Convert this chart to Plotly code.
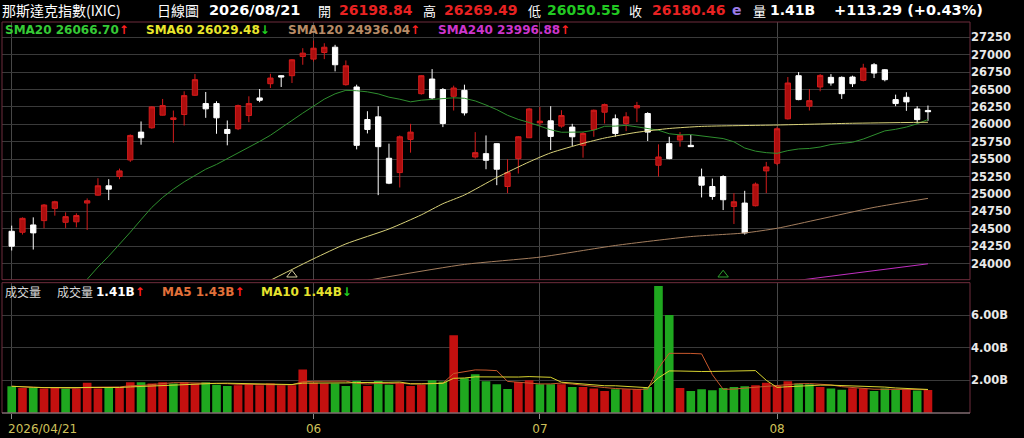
import plotly.graph_objects as go
import pandas as pd

# ---------------- data ----------------
dates = [d.strftime("%Y-%m-%d") for d in pd.bdate_range(
    "2026-04-21", "2026-08-21", freq="C",
    holidays=["2026-05-25", "2026-06-19", "2026-07-03"])]

opens = [24464, 24450, 24555, 24617, 24793, 24593, 24600, 24869, 24983, 25117,
         25250, 25488, 25888, 25950, 26131, 26069, 26141, 26417, 26298, 26298,
         25926, 25936, 26126, 26379, 26583, 26698, 26698, 26974, 26936, 27031,
         27107, 26569, 26536, 26069, 26107, 25512, 25307, 25783, 26440, 26650,
         26498, 26402, 26488, 25531, 25579, 25722, 25107, 25507, 25807, 26021,
         26050, 25974, 25960, 25698, 25926, 26174, 26079, 26012, 26236, 26155,
         25412, 25722, 25774, 25698, 25245, 25107, 25250, 24821, 24869, 24831,
         25331, 25440, 26079, 26698, 26260, 26536, 26674, 26674, 26679, 26631,
         26855, 26783, 26355, 26388, 26221, 26198.84]
highs = [24545, 24664, 24664, 24855, 24902, 24736, 24721, 24936, 25226, 25212,
         25364, 25855, 26041, 26260, 26364, 26198, 26474, 26721, 26464, 26331,
         26055, 26283, 26402, 26507, 26726, 26707, 26936, 27093, 27202, 27164,
         27141, 26917, 26569, 26188, 26260, 25722, 25840, 26007, 26707, 26793,
         26521, 26555, 26569, 25888, 25840, 25726, 25498, 25831, 26236, 26250,
         26260, 26202, 26007, 25888, 26212, 26298, 26141, 26174, 26322, 26174,
         25712, 25821, 25888, 25850, 25364, 25221, 25269, 25012, 25045, 25164,
         25460, 25964, 26679, 26750, 26507, 26721, 26721, 26688, 26698, 26869,
         26879, 26793, 26426, 26460, 26260, 26269.49]
lows = [24188, 24417, 24202, 24507, 24688, 24512, 24521, 24483, 24974, 24912,
        25212, 25460, 25707, 25936, 26126, 25736, 25983, 26407, 26093, 25864,
        25698, 25917, 26031, 26317, 26521, 26536, 26593, 26855, 26902, 26936,
        26760, 26555, 25640, 25869, 24983, 25141, 25093, 25593, 26426, 26355,
        25960, 26198, 26126, 25507, 25355, 25126, 25012, 25293, 25802, 25974,
        25631, 25950, 25688, 25521, 25821, 26012, 25821, 25902, 26031, 25760,
        25250, 25498, 25679, 25674, 24950, 24917, 24769, 24569, 24417, 24821,
        25012, 25412, 26069, 26345, 26198, 26474, 26555, 26364, 26536, 26617,
        26664, 26617, 26260, 26193, 26012, 26050.55]
closes = [24250, 24650, 24441, 24841, 24888, 24674, 24690, 24902, 25117, 25069,
          25331, 25840, 25807, 26250, 26269, 26093, 26412, 26641, 26222, 26093,
          25869, 26269, 26298, 26345, 26664, 26679, 26926, 27022, 27093, 27107,
          26855, 26840, 25698, 25926, 25679, 25155, 25821, 25888, 26698, 26379,
          26012, 26521, 26164, 25593, 25483, 25355, 25307, 25821, 26221, 26045,
          25826, 26126, 25821, 25869, 26202, 26283, 25869, 26107, 26269, 25888,
          25531, 25507, 25840, 25679, 25126, 24964, 24917, 24888, 24440, 25141,
          25388, 25936, 26593, 26355, 26340, 26702, 26593, 26440, 26583, 26807,
          26736, 26641, 26298, 26322, 26067, 26180.46]
volumes_b = [1.64, 1.54, 1.56, 1.50, 1.56, 1.50, 1.50, 1.85, 1.50, 1.54,
             1.60, 1.89, 1.89, 1.81, 1.89, 1.81, 1.89, 1.81, 1.89, 1.74,
             1.66, 1.70, 1.76, 1.70, 1.81, 1.70, 1.70, 2.67, 1.85, 1.81,
             1.81, 1.66, 1.97, 1.66, 1.97, 1.74, 1.85, 1.66, 1.74, 2.01,
             1.93, 4.78, 2.13, 2.38, 1.95, 1.76, 1.48, 1.91, 2.01, 1.76,
             1.76, 1.76, 1.60, 1.60, 1.50, 1.35, 1.46, 1.46, 1.46, 1.60,
             7.79, 6.01, 1.54, 1.35, 1.46, 1.39, 1.54, 1.60, 1.64, 1.70,
             1.85, 1.66, 1.95, 1.81, 1.76, 1.60, 1.50, 1.42, 1.52, 1.50,
             1.35, 1.50, 1.42, 1.45, 1.38, 1.41]

sma20_early_idx = [7, 8, 9, 10, 11, 12, 13, 14, 15, 16, 17, 18]
sma20_early_val = [23775, 23950, 24107, 24274, 24450, 24631, 24807, 24950, 25069, 25174, 25259, 25355]
sma60_idx = [24, 28, 31, 35, 38, 40, 42, 45, 48, 50, 53, 55, 58, 61, 64, 71, 78, 85]
sma60_val = [23760, 24069, 24283, 24497, 24700, 24860, 24985, 25236, 25460, 25590,
             25726, 25803, 25885, 25940, 25970, 25990, 26015, 26029.48]
sma120_idx = [33, 42, 49, 56, 63, 68, 71, 75, 80, 85]
sma120_val = [23760, 23988, 24093, 24260, 24388, 24440, 24507, 24640, 24807, 24936.04]
sma240_idx = [73, 79, 85]
sma240_val = [23760, 23880, 23996.88]
marker_idx = [26, 66]
marker_price = [23840, 23840]

price_ticks = list(range(24000, 27251, 250))
price_ticktext = [str(v) for v in price_ticks]
vol_tickvals = [2, 4, 6]
vol_ticktext = ["2.00B", "4.00B", "6.00B"]
month_idx = [0, 28, 49, 71]
month_text = ["", "06", "07", "08"]

# ---------------- derived ----------------
sma20 = pd.Series(closes).rolling(20).mean()
for i, v in zip(sma20_early_idx, sma20_early_val):
    sma20[i] = v
vol_s = pd.Series(volumes_b)
ma5 = vol_s.rolling(5, min_periods=1).mean()
ma10 = vol_s.rolling(10, min_periods=1).mean()
RED_V, GREEN_V = "#c4100f", "#1fa81f"
vol_colors = [GREEN_V if (i == 0 or closes[i] <= closes[i - 1]) else RED_V for i in range(len(closes))]

# ---------------- figure ----------------
fig = go.Figure()
fig.add_trace(go.Candlestick(
    x=dates, open=opens, high=highs, low=lows, close=closes,
    increasing=dict(line=dict(color="#d21c1c", width=1), fillcolor="#ad0e0e"),
    decreasing=dict(line=dict(color="#ffffff", width=1), fillcolor="#ffffff"),
    whiskerwidth=0, xaxis="x", yaxis="y", hoverinfo="skip"))

fig.add_trace(go.Scatter(x=dates, y=sma20, mode="lines",
                         line=dict(color="#2f8f2f", width=1), xaxis="x", yaxis="y"))
fig.add_trace(go.Scatter(x=[dates[i] for i in sma60_idx], y=sma60_val, mode="lines",
                         line=dict(color="#d9d27a", width=1, shape="spline", smoothing=0.6),
                         xaxis="x", yaxis="y"))
fig.add_trace(go.Scatter(x=[dates[i] for i in sma120_idx], y=sma120_val, mode="lines",
                         line=dict(color="#a47e5e", width=1, shape="spline", smoothing=0.6),
                         xaxis="x", yaxis="y"))
fig.add_trace(go.Scatter(x=[dates[i] for i in sma240_idx], y=sma240_val, mode="lines",
                         line=dict(color="#c12fc1", width=1), xaxis="x", yaxis="y"))
fig.add_trace(go.Scatter(x=[dates[i] for i in marker_idx], y=marker_price, mode="markers",
                         marker=dict(symbol="triangle-up-open", size=9,
                                     color=["#d8d0a0", "#2ea02e"], line=dict(width=1)),
                         xaxis="x", yaxis="y"))

fig.add_trace(go.Bar(x=dates, y=volumes_b, marker=dict(color=vol_colors, line=dict(width=0)),
                     xaxis="x2", yaxis="y2"))
fig.add_trace(go.Scatter(x=dates, y=ma5, mode="lines", line=dict(color="#c8582c", width=1),
                         xaxis="x2", yaxis="y2"))
fig.add_trace(go.Scatter(x=dates, y=ma10, mode="lines", line=dict(color="#d8d430", width=1),
                         xaxis="x2", yaxis="y2"))

L, R, T, B = 2, 970, 22, 415
W, H = R - L, B - T
PRICE_BOTTOM = 281
VOL_TOP = 284


def px(x):
    return (x - L) / W


def py(y):
    return (B - y) / H


month_vals = [dates[i] for i in month_idx]
axis_common = dict(type="category", categoryorder="array", categoryarray=dates,
                   range=[-0.9, 88.9], tickvals=month_vals, showgrid=True,
                   gridcolor="#474747", gridwidth=1, zeroline=False, fixedrange=True)

fig.update_layout(
    width=1024, height=438,
    margin=dict(l=L, r=1024 - R, t=T, b=438 - B),
    paper_bgcolor="#000000", plot_bgcolor="#000000",
    showlegend=False, bargap=0.2, hovermode=False,
    xaxis=dict(axis_common, anchor="y", showticklabels=False, ticks="",
               rangeslider=dict(visible=False)),
    xaxis2=dict(axis_common, anchor="y2", matches="x", ticktext=month_text,
                ticks="outside", ticklen=5, tickcolor="#8a8a8a",
                tickfont=dict(family="DejaVu Sans", size=12, color="#cfc05a")),
    yaxis=dict(domain=[py(PRICE_BOTTOM), 1], range=[23769, 27469], side="right",
               tickvals=price_ticks, ticktext=price_ticktext, showgrid=True,
               gridcolor="#3a3a3a", zeroline=False,
               tickfont=dict(family="DejaVu Sans", size=11.5, color="#e8e8e8", weight="bold"),
               fixedrange=True),
    yaxis2=dict(domain=[0, py(VOL_TOP)], range=[0, 8.0], side="right",
                tickvals=vol_tickvals, ticktext=vol_ticktext, showgrid=True,
                gridcolor="#3a3a3a", zeroline=False,
                tickfont=dict(family="DejaVu Sans", size=11.5, color="#e8e8e8", weight="bold"),
                fixedrange=True),
)

BORDER = "#6e2c3c"
fig.add_shape(type="rect", xref="paper", yref="paper", x0=0, x1=1, y0=py(PRICE_BOTTOM), y1=1,
              line=dict(color=BORDER, width=1))
fig.add_shape(type="rect", xref="paper", yref="paper", x0=0, x1=1, y0=0, y1=py(VOL_TOP),
              line=dict(color=BORDER, width=1))
fig.add_shape(type="line", xref="paper", yref="paper", x0=0, x1=1, y0=0, y1=0,
              line=dict(color="#8a8a8a", width=1))

CJK = "Noto Sans CJK TC"
NUM = "DejaVu Sans"


def label(text, x, y, color, size, family=NUM, bold=True):
    fig.add_annotation(text=text, xref="paper", yref="paper", x=px(x), y=py(y),
                       xanchor="left", yanchor="middle", showarrow=False,
                       font=dict(family=family, size=size, color=color,
                                 weight="bold" if bold else "normal"))


UP = "<span style='color:#ff2020'>↑</span>"
DOWN = "<span style='color:#20d020'>↓</span>"

# header line
label("那斯達克指數(IXIC)", 0, 10, "#ffffff", 14, CJK, False)
label("日線圖", 155, 10, "#ffffff", 14, CJK, False)
label("2026/08/21", 207, 10, "#ffffff", 14.5)
label("開", 316, 10, "#ffffff", 13, CJK, False)
label("26198.84", 337, 10, "#e82222", 14)
label("高", 421, 10, "#ffffff", 13, CJK, False)
label("26269.49", 442, 10, "#e82222", 14)
label("低", 526, 10, "#ffffff", 13, CJK, False)
label("26050.55", 545, 10, "#22c922", 14)
label("收", 627, 10, "#ffffff", 13, CJK, False)
label("26180.46", 650, 10, "#e82222", 14)
label("e", 730, 10, "#9b7be6", 14)
label("量", 751, 10, "#ffffff", 13, CJK, False)
label("1.41B", 768, 10, "#ffffff", 14)
label("+113.29 (+0.43%)", 832, 10, "#ffffff", 14.5)

# moving-average legend line
label("SMA20 26066.70" + UP, 3, 30, "#36c936", 12)
label("SMA60 26029.48" + DOWN, 144, 30, "#e9e62c", 12)
label("SMA120 24936.04" + UP, 286, 30, "#b78b66", 12)
label("SMA240 23996.88" + UP, 436, 30, "#cc35cc", 12)

# volume legend line
label("成交量", 3, 293, "#d8d8d8", 12, CJK, False)
label("成交量", 55, 293, "#d8d8d8", 12, CJK, False)
label("1.41B" + UP, 94, 293, "#ffffff", 12)
label("MA5 1.43B" + UP, 160, 293, "#e2713a", 12)
label("MA10 1.44B" + DOWN, 259, 293, "#e6e32e", 12)

# first date label (left-aligned at the first tick)
fig.add_annotation(text="2026/04/21", xref="paper", yref="paper", x=px(6), y=py(431),
                   xanchor="left", yanchor="middle", showarrow=False,
                   font=dict(family=NUM, size=12, color="#cfc05a"))

fig.write_html("out.html", config={"displayModeBar": False},
               post_script="document.body.style.margin='0';document.body.style.background='#000';")
